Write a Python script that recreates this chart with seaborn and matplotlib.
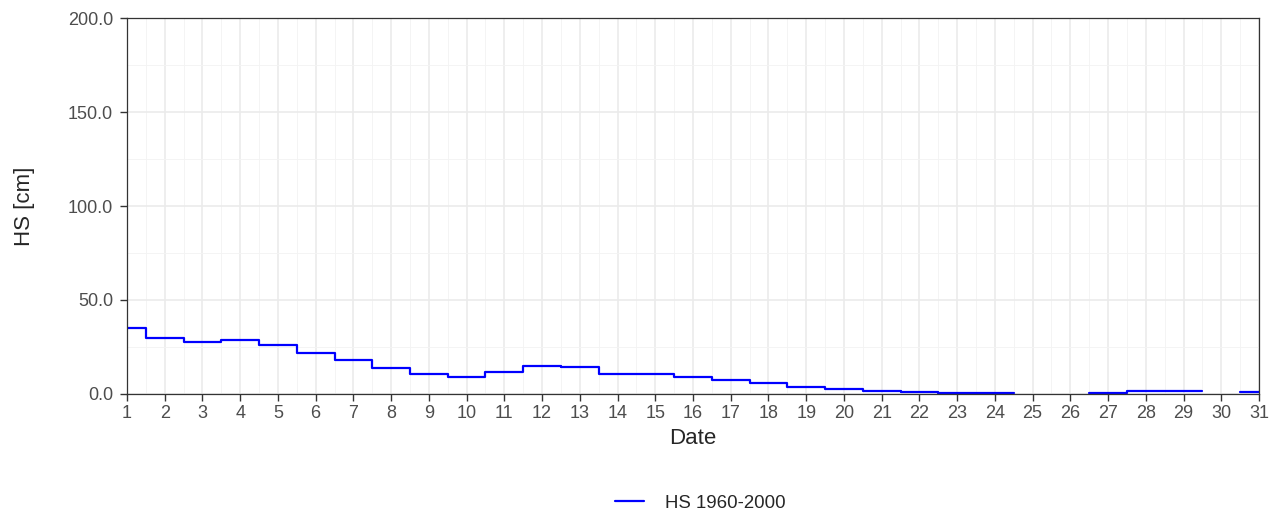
import numpy as np
import pandas as pd
import matplotlib
matplotlib.use("Agg")
import matplotlib.pyplot as plt
import seaborn as sns
from matplotlib.lines import Line2D
from matplotlib.ticker import MultipleLocator, FormatStrFormatter

# Daily mean snow depth (cm), days without value are NaN
days = list(range(1, 32))
hs = [35.1, 29.8, 27.7, 28.7, 26.1, 21.8, 18.1, 13.8, 10.6, 9.3,
      11.7, 14.9, 14.4, 10.7, 10.5, 9.2, 7.4, 5.7, 3.5, 2.8,
      1.4, 1.3, 0.7, 0.7, np.nan, np.nan, 0.6, 1.8, 1.5, np.nan,
      1.0]
series_label = "HS 1960-2000"

# each day drawn as a flat step from d-0.5 to d+0.5, broken at gaps
rows = []
seg = 0
prev_nan = True
for d, v in zip(days, hs):
    if np.isnan(v):
        prev_nan = True
        continue
    if prev_nan:
        seg += 1
    prev_nan = False
    rows.append({"x": d - 0.5, "HS": v, "seg": seg})
    rows.append({"x": d + 0.5, "HS": v, "seg": seg})
df = pd.DataFrame(rows)

sns.set_style("white")
plt.rcParams['font.family'] = ['Liberation Sans', 'DejaVu Sans']

fig = plt.figure(figsize=(12.75, 5.11), dpi=100)
ax = fig.add_axes([127 / 1275, 1 - 394 / 511, (1259 - 127) / 1275, (394 - 18) / 511])

sns.lineplot(data=df, x="x", y="HS", units="seg", estimator=None, sort=False,
             color="#0000FF", linewidth=1.6, legend=False, ax=ax)

ax.set_xlim(1, 31)
ax.set_ylim(0, 200)
ax.xaxis.set_major_locator(MultipleLocator(1))
ax.xaxis.set_minor_locator(MultipleLocator(0.5))
ax.yaxis.set_major_locator(MultipleLocator(50))
ax.yaxis.set_minor_locator(MultipleLocator(25))
ax.yaxis.set_major_formatter(FormatStrFormatter("%.1f"))

ax.grid(which="major", color="#EBEBEB", linewidth=1.2)
ax.grid(which="minor", color="#F3F3F3", linewidth=0.6)
ax.set_axisbelow(True)

for s in ax.spines.values():
    s.set_color("#333333")
    s.set_linewidth(0.9)

ax.tick_params(axis="both", which="major", bottom=True, left=True, direction="out",
               length=5, width=1.0, color="#333333",
               labelsize=13, labelcolor="#4D4D4D", pad=3)
ax.tick_params(axis="y", which="major", pad=5)
ax.tick_params(axis="both", which="minor", length=0)

ax.set_xlabel("Date", fontsize=16, labelpad=4)
ax.set_ylabel("HS [cm]", fontsize=16, labelpad=24)

handle = Line2D([], [], color="#0000FF", linewidth=1.6)
fig.legend([handle], [series_label], loc="center", bbox_to_anchor=(700 / 1275, 1 - 503 / 511),
           frameon=False, fontsize=13.4, handlelength=1.6, handletextpad=1.1)

fig.savefig("out.png", dpi=100)
